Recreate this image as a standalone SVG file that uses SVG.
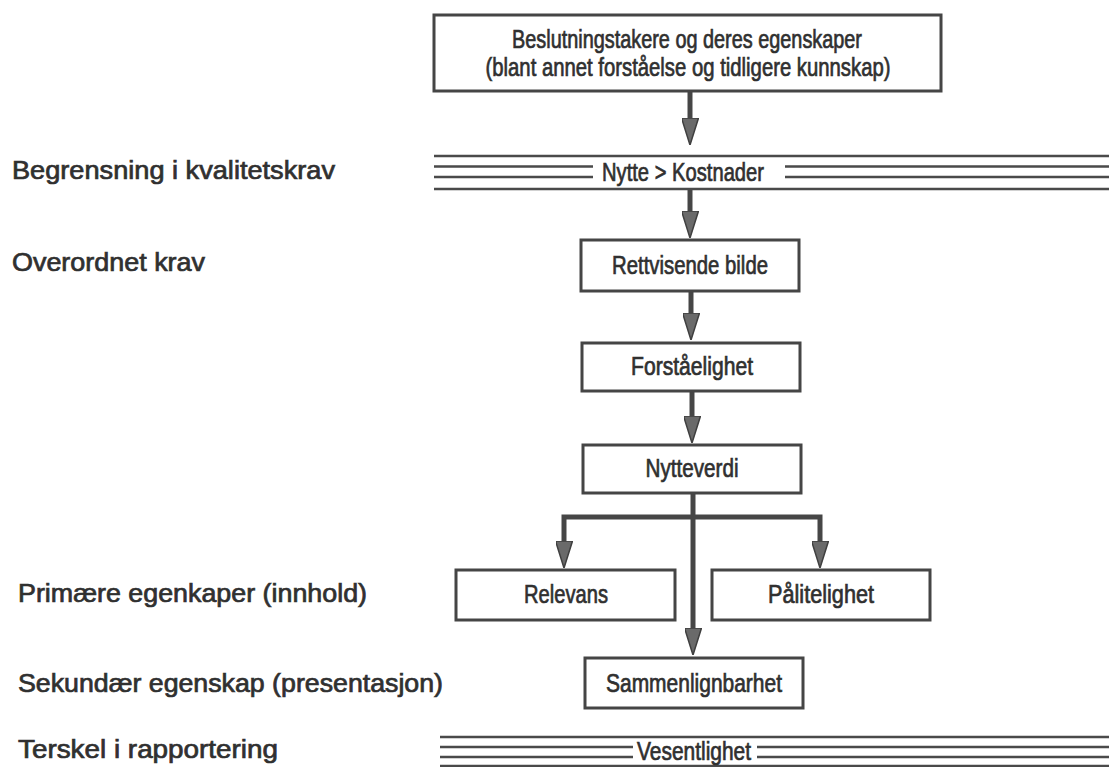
<svg xmlns="http://www.w3.org/2000/svg" width="1109" height="767" viewBox="0 0 1109 767">
  <style>
    text { font-family: "Liberation Sans", Arial, sans-serif; fill: #303030; stroke: #303030; stroke-width: 0.7; }
    .lbl { font-size: 25px; }
    .c { font-size: 25.5px; text-anchor: middle; }
    .box { fill: #ffffff; stroke: #454545; stroke-width: 3; }
    .band { stroke: #4a4a4a; stroke-width: 2.5; fill: none; }
    .link { stroke: #464646; stroke-width: 5; fill: none; stroke-linejoin: miter; }
  </style>
  <defs>
    <marker id="head" viewBox="0 0 27 17" refX="0" refY="8.5" markerWidth="27" markerHeight="17" markerUnits="userSpaceOnUse" orient="auto">
      <path d="M0 0 L27 8.5 L0 17 Z" fill="#6a6a6a" stroke="#3f3f3f" stroke-width="1.5" stroke-linejoin="miter"/>
    </marker>
  </defs>

  <rect width="1109" height="767" fill="#ffffff"/>

  <!-- row labels -->
  <g id="labels">
    <text class="lbl" x="12" y="179" textLength="323" lengthAdjust="spacingAndGlyphs">Begrensning i kvalitetskrav</text>
    <text class="lbl" x="12" y="271" textLength="193" lengthAdjust="spacingAndGlyphs">Overordnet krav</text>
    <text class="lbl" x="18" y="602" textLength="349" lengthAdjust="spacingAndGlyphs">Primære egenkaper (innhold)</text>
    <text class="lbl" x="18" y="692" textLength="425" lengthAdjust="spacingAndGlyphs">Sekundær egenskap (presentasjon)</text>
    <text class="lbl" x="18" y="758" textLength="260" lengthAdjust="spacingAndGlyphs">Terskel i rapportering</text>
  </g>

  <!-- connectors -->
  <g id="connectors">
    <path class="link" d="M690 91 V118" marker-end="url(#head)"/>
    <path class="link" d="M690 189 V211" marker-end="url(#head)"/>
    <path class="link" d="M691 291 V313" marker-end="url(#head)"/>
    <path class="link" d="M692 391 V416" marker-end="url(#head)"/>
    <path class="link" d="M693 493 V628" marker-end="url(#head)"/>
    <path class="link" d="M693 517 H564 V541" marker-end="url(#head)"/>
    <path class="link" d="M693 517 H820 V541" marker-end="url(#head)"/>
  </g>

  <g id="decision-makers">
    <rect class="box" x="434" y="15" width="507" height="76"/>
    <text class="c" x="687" y="48" textLength="350" lengthAdjust="spacingAndGlyphs">Beslutningstakere og deres egenskaper</text>
    <text class="c" x="688" y="76" textLength="405" lengthAdjust="spacingAndGlyphs">(blant annet forståelse og tidligere kunnskap)</text>
  </g>

  <g id="cost-benefit">
    <path class="band" d="M434 156 H1109 M434 189 H1109 M434 166.5 H593 M434 177 H593 M785 166.5 H1109 M785 177 H1109"/>
    <text class="c" x="683" y="181" textLength="162" lengthAdjust="spacingAndGlyphs">Nytte &gt; Kostnader</text>
  </g>

  <g id="fair-view">
    <rect class="box" x="581" y="240" width="218" height="51"/>
    <text class="c" x="690" y="274" textLength="156" lengthAdjust="spacingAndGlyphs">Rettvisende bilde</text>
  </g>

  <g id="understandability">
    <rect class="box" x="582" y="343" width="218" height="48"/>
    <text class="c" x="692" y="375" textLength="122" lengthAdjust="spacingAndGlyphs">Forståelighet</text>
  </g>

  <g id="usefulness">
    <rect class="box" x="583" y="445" width="218" height="48"/>
    <text class="c" x="692" y="477" textLength="93" lengthAdjust="spacingAndGlyphs">Nytteverdi</text>
  </g>

  <g id="relevance">
    <rect class="box" x="456" y="570" width="219" height="50"/>
    <text class="c" x="566" y="603" textLength="84" lengthAdjust="spacingAndGlyphs">Relevans</text>
  </g>

  <g id="reliability">
    <rect class="box" x="712" y="570" width="218" height="50"/>
    <text class="c" x="821" y="603" textLength="106" lengthAdjust="spacingAndGlyphs">Pålitelighet</text>
  </g>

  <g id="comparability">
    <rect class="box" x="585" y="658" width="218" height="50"/>
    <text class="c" x="694" y="692" textLength="176" lengthAdjust="spacingAndGlyphs">Sammenlignbarhet</text>
  </g>

  <g id="materiality">
    <path class="band" d="M440 737 H1109 M440 766 H1109 M440 747 H633 M440 757 H633 M757 747 H1109 M757 757 H1109"/>
    <text class="c" x="694" y="760" textLength="114" lengthAdjust="spacingAndGlyphs">Vesentlighet</text>
  </g>
</svg>
